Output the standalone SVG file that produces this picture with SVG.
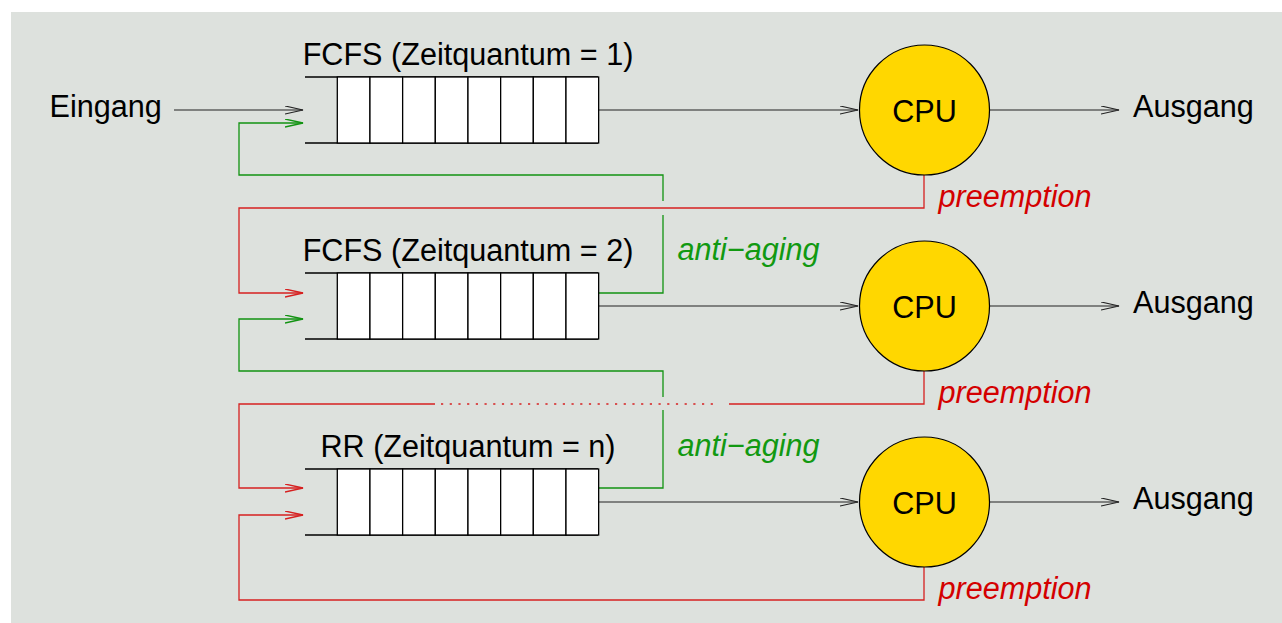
<svg xmlns="http://www.w3.org/2000/svg" width="1282" height="623" viewBox="0 0 1282 623">
<defs>
<style>
text{font-family:"Liberation Sans",Arial,sans-serif;font-size:30.6px;fill:#000}
.it{font-style:italic}
.red{fill:#d40000}
.grn{fill:#119911}
.cell{fill:#fff;stroke:#000;stroke-width:1.3}
.ql{stroke:#000;stroke-width:1.3;fill:none}
.cpu{fill:#ffd700;stroke:#000;stroke-width:1.2}
.k{stroke:#222;stroke-width:1.2;fill:none}
.r{stroke:#d62020;stroke-width:1.3;fill:none}
.g{stroke:#129312;stroke-width:1.3;fill:none}
</style>
<marker id="ak" markerUnits="userSpaceOnUse" markerWidth="20" markerHeight="10" refX="18" refY="4" orient="auto"><path d="M0,0 L18,4 L0,8" fill="none" stroke="#222" stroke-width="1.2"/></marker>
<marker id="ar" markerUnits="userSpaceOnUse" markerWidth="20" markerHeight="10" refX="18" refY="4" orient="auto"><path d="M0,0 L18,4 L0,8" fill="none" stroke="#d62020" stroke-width="1.3"/></marker>
<marker id="ag" markerUnits="userSpaceOnUse" markerWidth="20" markerHeight="10" refX="18" refY="4" orient="auto"><path d="M0,0 L18,4 L0,8" fill="none" stroke="#129312" stroke-width="1.3"/></marker>
<g id="queueShape">
<path class="ql" d="M305,0 H598 M305,66 H598"/>
<rect class="cell" x="337.3" y="0" width="32.67" height="66"/>
<rect class="cell" x="369.97" y="0" width="32.67" height="66"/>
<rect class="cell" x="402.64" y="0" width="32.67" height="66"/>
<rect class="cell" x="435.31" y="0" width="32.67" height="66"/>
<rect class="cell" x="467.98" y="0" width="32.67" height="66"/>
<rect class="cell" x="500.65" y="0" width="32.67" height="66"/>
<rect class="cell" x="533.32" y="0" width="32.67" height="66"/>
<rect class="cell" x="565.99" y="0" width="32.67" height="66"/>
</g>
</defs>
<rect x="11" y="12" width="1271" height="611" fill="#dde1dd"/>

<g id="connectors">
<path class="k" d="M174,110 H303" marker-end="url(#ak)"/>
<path class="k" d="M598,110 H858" marker-end="url(#ak)"/>
<path class="k" d="M990,110 H1119" marker-end="url(#ak)"/>
<path class="k" d="M598,306 H858" marker-end="url(#ak)"/>
<path class="k" d="M990,306 H1119" marker-end="url(#ak)"/>
<path class="k" d="M598,502 H858" marker-end="url(#ak)"/>
<path class="k" d="M990,502 H1119" marker-end="url(#ak)"/>
<path class="g" d="M598,293 H663 V215 M663,201 V175 H239 V123 H303" marker-end="url(#ag)"/>
<path class="r" d="M924,175 V208 H239 V293 H303" marker-end="url(#ar)"/>
<path class="g" d="M598,488 H663 V410 M663,397 V371 H239 V319 H303" marker-end="url(#ag)"/>
<path class="r" d="M924,371 V404 H729"/>
<path class="r" d="M441,404 H716" stroke-dasharray="2.2 6.5"/>
<path class="r" d="M435,404 H239 V488 H303" marker-end="url(#ar)"/>
<path class="r" d="M924,567 V600 H239 V515 H303" marker-end="url(#ar)"/>
</g>

<g id="eingang"><text x="49.5" y="117">Eingang</text></g>

<g id="queue1">
<text x="468" y="65" text-anchor="middle">FCFS (Zeitquantum = 1)</text>
<use href="#queueShape" y="77"/>
</g>
<g id="queue2">
<text x="468" y="261" text-anchor="middle">FCFS (Zeitquantum = 2)</text>
<use href="#queueShape" y="273"/>
</g>
<g id="queue3">
<text x="468" y="457" text-anchor="middle">RR (Zeitquantum = n)</text>
<use href="#queueShape" y="469"/>
</g>

<g id="cpu1"><circle class="cpu" cx="924.5" cy="110" r="65"/><text x="924.5" y="121.5" text-anchor="middle">CPU</text></g>
<g id="cpu2"><circle class="cpu" cx="924.5" cy="306" r="65"/><text x="924.5" y="317.5" text-anchor="middle">CPU</text></g>
<g id="cpu3"><circle class="cpu" cx="924.5" cy="502" r="65"/><text x="924.5" y="513.5" text-anchor="middle">CPU</text></g>

<g id="ausgang1"><text x="1133" y="117">Ausgang</text></g>
<g id="ausgang2"><text x="1133" y="313">Ausgang</text></g>
<g id="ausgang3"><text x="1133" y="509">Ausgang</text></g>

<g id="labels">
<text class="it red" x="938.5" y="207">preemption</text>
<text class="it red" x="938.5" y="403">preemption</text>
<text class="it red" x="938.5" y="599">preemption</text>
<text class="it grn" x="677.5" y="260">anti−aging</text>
<text class="it grn" x="677.5" y="456">anti−aging</text>
</g>
</svg>
